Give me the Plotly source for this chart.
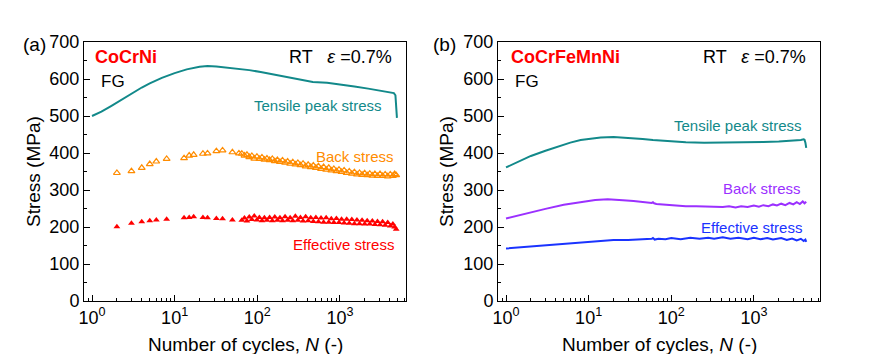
import plotly.graph_objects as go

# page body has an 8px default margin: figure drawn 8px in from the window edge
OFF = 8
W, H = 886 - 2 * OFF, 362 - 2 * OFF
FONT = "Liberation Sans, Arial, sans-serif"

# ---------------- Data: (a) CoCrNi ----------------
a_tens_N = [1, 1.3, 1.7, 2.2, 3, 4, 5, 7, 10, 14, 20, 25, 32, 45, 60, 80, 110, 160,
            230, 330, 470, 700, 1000, 1500, 2200, 3000, 4000, 4500, 4700, 4800, 4900]
a_tens_S = [500, 512, 527, 542, 562, 577, 588, 603, 616, 626, 633, 635, 634, 631, 628,
            624, 619, 612, 605, 598, 592, 590, 586, 580, 574, 569, 565, 562, 556, 530, 495]

a_back_sparse_N = [2, 3, 4, 5, 6, 8, 13, 15, 17, 22, 25, 32, 38, 50, 60]
a_back_sparse_S = [346, 351, 360, 370, 377, 384, 386, 393, 395, 398, 399, 405, 407, 402, 399]

a_eff_sparse_N = [2, 3, 4, 5, 6, 8, 13, 15, 17, 22, 25, 32, 38, 50]
a_eff_sparse_S = [201, 210, 214, 217, 219, 221, 225, 226, 228, 226, 225, 223, 222, 219]

a_dense_N = [65, 70, 75, 80, 86, 92, 99, 106, 114, 122, 131, 141, 152, 163, 175, 188,
             202, 217, 233, 250, 269, 289, 310, 333, 358, 385, 413, 444, 477, 512, 550,
             591, 635, 682, 733, 787, 845, 908, 975, 1047, 1125, 1208, 1298, 1394, 1497,
             1608, 1727, 1855, 1993, 2140, 2299, 2469, 2652, 2849, 3060, 3287, 3530,
             3792, 4073, 4375, 4600, 4800]
a_back_dense_S = [398, 393, 395, 389, 392, 385, 390, 384, 388, 382, 385, 381, 384, 378,
                  381, 376, 380, 374, 377, 371, 375, 369, 373, 367, 371, 364, 368, 362,
                  366, 360, 364, 357, 362, 355, 360, 353, 357, 351, 355, 349, 353, 346,
                  350, 344, 348, 342, 346, 341, 345, 340, 344, 339, 343, 338, 343, 338,
                  342, 337, 342, 338, 343, 340]
a_eff_dense_S = [218, 224, 216, 227, 220, 230, 219, 226, 217, 225, 218, 226, 217, 227,
                 218, 225, 217, 228, 218, 225, 217, 229, 218, 226, 216, 228, 217, 225,
                 215, 226, 214, 224, 213, 225, 213, 222, 212, 223, 212, 221, 211, 221,
                 210, 220, 209, 219, 209, 218, 208, 217, 208, 216, 207, 215, 206, 214,
                 205, 212, 203, 208, 200, 194]

# ---------------- Data: (b) CoCrFeMnNi ----------------
b_tens_N = [1, 1.5, 2, 3, 4, 6, 8, 10, 14, 20, 30, 45, 60, 100, 150, 250, 400, 600,
            900, 1300, 2000, 2600, 3000, 3400, 3700, 4000, 4100, 4200, 4300]
b_tens_S = [361, 380, 392, 406, 416, 428, 435, 438, 442, 443, 441, 438, 435, 431, 429,
            428, 428, 428, 429, 430, 431, 432, 433, 434, 435, 437, 436, 428, 414]

b_back_N = [1, 1.5, 2, 3, 5, 8, 12, 17, 22, 26, 35, 45, 51, 56, 58, 60, 62, 66, 75, 85,
            98, 120, 150, 200, 250, 330, 420, 500, 600, 700, 840, 1000, 1150, 1300,
            1500, 1700, 1900, 2140, 2400, 2700, 3000, 3300, 3600, 3900, 4100, 4300]
b_back_S = [223, 233, 240, 249, 260, 268, 273, 275, 274, 272, 270, 267, 266, 264, 265,
            267, 264, 262, 261, 259, 258, 257, 256, 256, 255, 255, 254, 256, 253, 256,
            254, 258, 255, 259, 256, 261, 258, 263, 259, 265, 261, 267, 262, 269, 264, 268]

b_eff_N = [1, 1.5, 2, 3, 5, 9.5, 15, 20, 30, 40, 50, 58, 60, 63, 70, 85, 100, 130, 170,
           220, 280, 330, 420, 520, 650, 840, 1000, 1200, 1450, 1700, 2140, 2500, 2900,
           3300, 3700, 4000, 4200, 4300]
b_eff_S = [142, 145, 147, 150, 155, 160, 163, 165, 165, 166, 167, 168, 170, 166, 168,
           167, 170, 167, 171, 168, 171, 168, 172, 168, 171, 167, 171, 167, 170, 166,
           170, 165, 169, 164, 168, 162, 166, 160]

# ---------------- Axis ticks ----------------
x_tickvals = [1, 10, 100, 1000]
x_ticktext = ["10<sup>0</sup>", "10<sup>1</sup>", "10<sup>2</sup>", "10<sup>3</sup>"]
x_minor = [0.9] + [m * d for d in (1, 10, 100, 1000) for m in range(2, 10)]
y_tickvals = [0, 100, 200, 300, 400, 500, 600, 700]

TEAL = "#12898a"
ORANGE = "#ff8c00"
RED = "#ff0000"
PURPLE = "#9b30ff"
BLUE = "#1a33ff"

fig = go.Figure()

# (a)
fig.add_trace(go.Scatter(x=a_tens_N, y=a_tens_S, mode="lines",
                         line=dict(color=TEAL, width=2), xaxis="x", yaxis="y"))
fig.add_trace(go.Scatter(x=a_back_sparse_N + a_dense_N, y=a_back_sparse_S + a_back_dense_S,
                         mode="markers",
                         marker=dict(symbol="triangle-up-open", size=6, color=ORANGE,
                                     line=dict(width=1.2, color=ORANGE)),
                         xaxis="x", yaxis="y"))
fig.add_trace(go.Scatter(x=a_eff_sparse_N + a_dense_N, y=a_eff_sparse_S + a_eff_dense_S,
                         mode="markers",
                         marker=dict(symbol="triangle-up", size=6, color=RED,
                                     line=dict(width=0)),
                         xaxis="x", yaxis="y"))
# (b)
fig.add_trace(go.Scatter(x=b_tens_N, y=b_tens_S, mode="lines",
                         line=dict(color=TEAL, width=2), xaxis="x2", yaxis="y2"))
fig.add_trace(go.Scatter(x=b_back_N, y=b_back_S, mode="lines",
                         line=dict(color=PURPLE, width=2), xaxis="x2", yaxis="y2"))
fig.add_trace(go.Scatter(x=b_eff_N, y=b_eff_S, mode="lines",
                         line=dict(color=BLUE, width=2), xaxis="x2", yaxis="y2"))

def px_x(px):
    return (px - OFF) / W

def px_y(py):
    return 1 - (py - OFF) / H

xaxis_common = dict(
    type="log", range=[-0.097, 3.80], tickmode="array", tickvals=x_tickvals,
    ticktext=x_ticktext, ticks="inside", ticklen=6, tickwidth=1, tickcolor="#000",
    showline=True, linecolor="#000", linewidth=1, mirror=True, showgrid=False,
    zeroline=False, automargin=False, tickfont=dict(family=FONT, size=18, color="#000"),
    minor=dict(tickmode="array", tickvals=x_minor, ticks="inside", ticklen=3,
               tickcolor="#000", showgrid=False),
)
yaxis_common = dict(
    range=[0, 700], tickmode="array", tickvals=y_tickvals, ticks="inside", ticklen=6,
    tickwidth=1, tickcolor="#000", showline=True, linecolor="#000", linewidth=1,
    mirror=True, showgrid=False, zeroline=False, automargin=False,
    tickfont=dict(family=FONT, size=18, color="#000"),
    minor=dict(dtick=50, ticks="inside", ticklen=3, tickcolor="#000", showgrid=False),
)

fig.update_layout(
    width=W, height=H, margin=dict(l=0, r=0, t=0, b=0, autoexpand=False),
    paper_bgcolor="white", plot_bgcolor="white", showlegend=False,
    xaxis=dict(domain=[px_x(84), px_x(406)], anchor="y", **xaxis_common),
    yaxis=dict(domain=[px_y(301), px_y(42)], anchor="x", **yaxis_common),
    xaxis2=dict(domain=[px_x(498), px_x(820)], anchor="y2", **xaxis_common),
    yaxis2=dict(domain=[px_y(301), px_y(42)], anchor="x2", **yaxis_common),
)

def ann(text, x, y, size, color="#000", xanchor="left", bold=False, angle=0):
    fig.add_annotation(
        text=("<b>%s</b>" % text) if bold else text,
        x=px_x(x), y=px_y(y), xref="paper", yref="paper",
        xanchor=xanchor, yanchor="middle", showarrow=False, textangle=angle,
        font=dict(family=FONT, size=size, color=color),
    )

eps = "RT   <i>ε</i> =0.7%"
# panel (a)
ann("(a)", 21, 45, 19)
ann("CoCrNi", 93, 57, 18, RED, bold=True)
ann("FG", 99, 81, 17)
ann(eps, 394, 57, 18, xanchor="right")
ann("Tensile peak stress", 384, 105, 15, TEAL, xanchor="right")
ann("Back stress", 396, 156, 15, ORANGE, xanchor="right")
ann("Effective stress", 396, 244, 15, RED, xanchor="right")
ann("Stress (MPa)", 33, 172, 19, xanchor="center", angle=-90)
ann("Number of cycles, <i>N</i> (-)", 245, 344, 19, xanchor="center")
# panel (b)
ann("(b)", 431, 45, 19)
ann("CoCrFeMnNi", 509, 57, 18, RED, bold=True)
ann("FG", 513, 81, 17)
ann(eps, 808, 57, 18, xanchor="right")
ann("Tensile peak stress", 804, 125, 15, TEAL, xanchor="right")
ann("Back stress", 803, 188, 15, PURPLE, xanchor="right")
ann("Effective stress", 804, 227, 15, BLUE, xanchor="right")
ann("Stress (MPa)", 446, 172, 19, xanchor="center", angle=-90)
ann("Number of cycles, <i>N</i> (-)", 659, 344, 19, xanchor="center")

fig.write_html("out.html")
